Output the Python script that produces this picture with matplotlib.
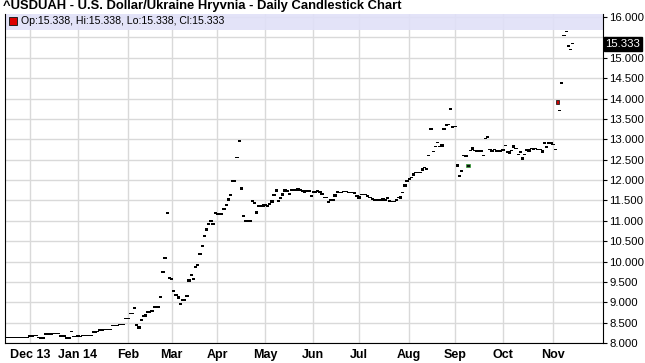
import numpy as np
import pandas as pd
import matplotlib
matplotlib.use("Agg")
import matplotlib.pyplot as plt
import matplotlib.transforms as mtrans
from matplotlib.patches import Rectangle

plt.rcParams["font.family"] = ["Liberation Sans", "DejaVu Sans"]

title = "^USDUAH - U.S. Dollar/Ukraine Hryvnia - Daily Candlestick Chart"
legend_text = "Op:15.338, Hi:15.338, Lo:15.338, Cl:15.333"
last_price = 15.333

# one close per business day, starting 2013-11-15
start_day = "2013-11-15"
closes = (
    [8.12] * 11 + [8.15] * 2 + [8.17] * 2 + [8.12] + [8.10] * 2 + [8.20] * 4
    + [8.22] * 3 + [8.15] * 3 + [8.10] * 2 + [8.27] + [8.14] * 4 + [8.16] * 5
    + [8.25] * 2 + [8.27] + [8.30] * 2 + [8.31] * 4 + [8.41] * 3 + [8.43] * 3
    + [8.59] * 2 + [8.70] * 2 + [8.84, 8.42, 8.35, 8.55, 8.65, 8.65, 8.74, 8.74, 8.77]
    + [8.87] * 3
    + [9.11, 9.73, 10.07, 11.17, 9.58, 9.55, 9.26, 9.16, 9.09, 8.94, 9.04, 9.04,
       9.14, 9.50, 9.65, 9.55, 9.85, 9.90, 10.17, 10.36, 10.61, 10.76, 10.90,
       10.98, 10.90, 11.17, 11.15, 11.15, 11.15, 11.27, 11.37, 11.49, 11.61,
       11.96, 11.96, 12.54, 12.94, 11.76, 11.10, 10.98, 10.98, 10.98, 11.47,
       11.42, 11.17, 11.34, 11.34, 11.34, 11.37, 11.34, 11.39, 11.44, 11.61,
       11.71, 11.47, 11.54, 11.61, 11.71, 11.71, 11.64, 11.74, 11.74, 11.74,
       11.74, 11.74, 11.71, 11.69, 11.71, 11.71, 11.59, 11.69, 11.69, 11.71,
       11.69, 11.64, 11.56, 11.56, 11.44, 11.49, 11.49, 11.59, 11.69, 11.68,
       11.68, 11.70, 11.70, 11.68, 11.68, 11.68, 11.65, 11.59, 11.54, 11.63,
       11.63, 11.62, 11.59, 11.56, 11.51, 11.49, 11.49, 11.49, 11.49, 11.49,
       11.49, 11.54, 11.47, 11.46, 11.46, 11.49, 11.56, 11.54, 11.68, 11.83,
       11.96, 12.00, 12.05, 12.10, 12.17, 12.17, 12.17, 12.23, 12.29, 12.25,
       12.59, 13.23, 12.68, 12.81, 12.91, 12.81, 12.82, 13.23, 13.33, 13.35,
       13.72, 13.28, 13.30, 12.33, 12.08, 12.20, 12.59, 12.56, 12.40, 12.71,
       12.74, 12.71, 12.69, 12.69, 12.69, 12.59, 13.00, 13.03, 12.73, 12.69,
       12.73, 12.69, 12.69, 12.69, 12.71, 12.83, 12.67, 12.65, 12.71, 12.79,
       12.76, 12.61, 12.67, 12.50, 12.61, 12.72, 12.69, 12.76, 12.74, 12.76,
       12.73, 12.73, 12.67, 12.88, 12.79, 12.89, 12.89, 12.86, 12.73, 13.87,
       13.69, 14.36, 15.53, 15.62, 15.26, 15.19, 15.33]
)

# candles with a visible body: index -> open
body_opens = {
    33: 8.20, 61: 8.41, 64: 8.71, 79: 9.15, 84: 9.56, 92: 10.83, 102: 11.55,
    108: 11.83, 115: 11.23, 118: 11.40, 122: 11.50, 124: 11.77, 127: 11.67,
    128: 11.77, 134: 11.80, 137: 11.75, 151: 11.65, 160: 11.71, 162: 11.60,
    168: 11.57, 173: 11.55, 181: 11.60, 183: 11.89, 185: 12.06, 187: 12.16,
    191: 12.29, 200: 12.88, 207: 12.39, 211: 12.62, 212: 12.31, 214: 12.80,
    221: 13.09, 228: 12.77, 231: 12.71, 233: 12.85, 237: 12.56, 240: 12.75,
    246: 12.73, 247: 12.94, 253: 13.96, 258: 15.32,
}
up_candle = 212
down_candle = 253

month_starts = ["2013-12-01", "2014-01-01", "2014-02-01", "2014-03-01",
                "2014-04-01", "2014-05-01", "2014-06-01", "2014-07-01",
                "2014-08-01", "2014-09-01", "2014-10-01", "2014-11-01"]
month_labels = ["Dec 13", "Jan 14", "Feb", "Mar", "Apr", "May", "Jun",
                "Jul", "Aug", "Sep", "Oct", "Nov"]
price_ticks = [8.0, 8.5, 9.0, 9.5, 10.0, 10.5, 11.0, 11.5, 12.0, 12.5,
               13.0, 13.5, 14.0, 14.5, 15.0, 15.5, 16.0]

days = pd.bdate_range(start_day, periods=len(closes))
xi = np.arange(len(closes))
closes = np.array(closes)
opens = closes.copy()
for k, v in body_opens.items():
    opens[k] = v
lo = np.minimum(opens, closes)
hi = np.maximum(opens, closes)
heights = np.maximum(hi - lo, 0.035)
month_idx = np.searchsorted(days.values, pd.to_datetime(month_starts).values)

W, H = 645, 363
fig = plt.figure(figsize=(W / 100, H / 100), dpi=100)
ax = fig.add_axes([5 / W, 20 / H, 598 / W, 329 / H])
ax.set_xlim(-0.46, 273.9)
ax.set_ylim(8.0, 16.074)

ax.set_axisbelow(True)
ax.grid(True, color="#d9d9d9", lw=1.0)

normal = [k for k in xi if k not in (up_candle, down_candle)]
ax.bar(xi[normal], heights[normal], bottom=lo[normal], width=1.5, color="black",
       linewidth=0.0, zorder=3)
ax.bar([up_candle], [heights[up_candle]], bottom=[lo[up_candle]], width=1.5,
       color="#111111", edgecolor="#2f9f2f", linewidth=0.5, zorder=4)
ax.bar([down_candle], [heights[down_candle]], bottom=[lo[down_candle]], width=1.5,
       color="#cc0000", edgecolor="#222222", linewidth=0.6, zorder=4)

# legend strip
band_bottom = 15.68
ax.add_patch(Rectangle((0, band_bottom), 1, 16.074 - band_bottom,
                       transform=mtrans.blended_transform_factory(ax.transAxes, ax.transData),
                       facecolor="#e0e0f8", alpha=0.9, edgecolor="none", zorder=2))
fig.add_artist(Rectangle((9 / W, 1 - 25 / H), 8 / W, 8 / H, transform=fig.transFigure,
                         facecolor="#dd0000", edgecolor="#222222", lw=0.7))
fig.text(21 / W, 1 - 21.5 / H, legend_text, fontsize=7.6, va="center", ha="left")

fig.text(3 / W, 1 - 6.5 / H, title, fontsize=9.4, fontweight="bold",
         va="center", ha="left")

ax.set_xticks(month_idx)
ax.set_xticklabels(month_labels, fontsize=9, fontweight="bold")
ax.tick_params(axis="x", length=0, pad=4)
ax.yaxis.tick_right()
ax.set_yticks(price_ticks)
# the 15.500 label is hidden behind the last-price box in the original
ax.set_yticklabels(["" if v == 15.5 else f"{v:.3f}" for v in price_ticks], fontsize=8.2)
ax.tick_params(axis="y", length=3, width=0.8, direction="out", pad=1.5)

for s in ["left", "bottom", "right"]:
    ax.spines[s].set_color("black")
    ax.spines[s].set_linewidth(0.8)
ax.spines["top"].set_visible(False)

ax.text(1.004, last_price, f"{last_price:.3f}", transform=ax.get_yaxis_transform(),
        fontsize=8.2, color="white", va="center", ha="left", zorder=10,
        bbox=dict(boxstyle="square,pad=0.15", facecolor="black", edgecolor="black"))

fig.savefig("out.png", dpi=100)
